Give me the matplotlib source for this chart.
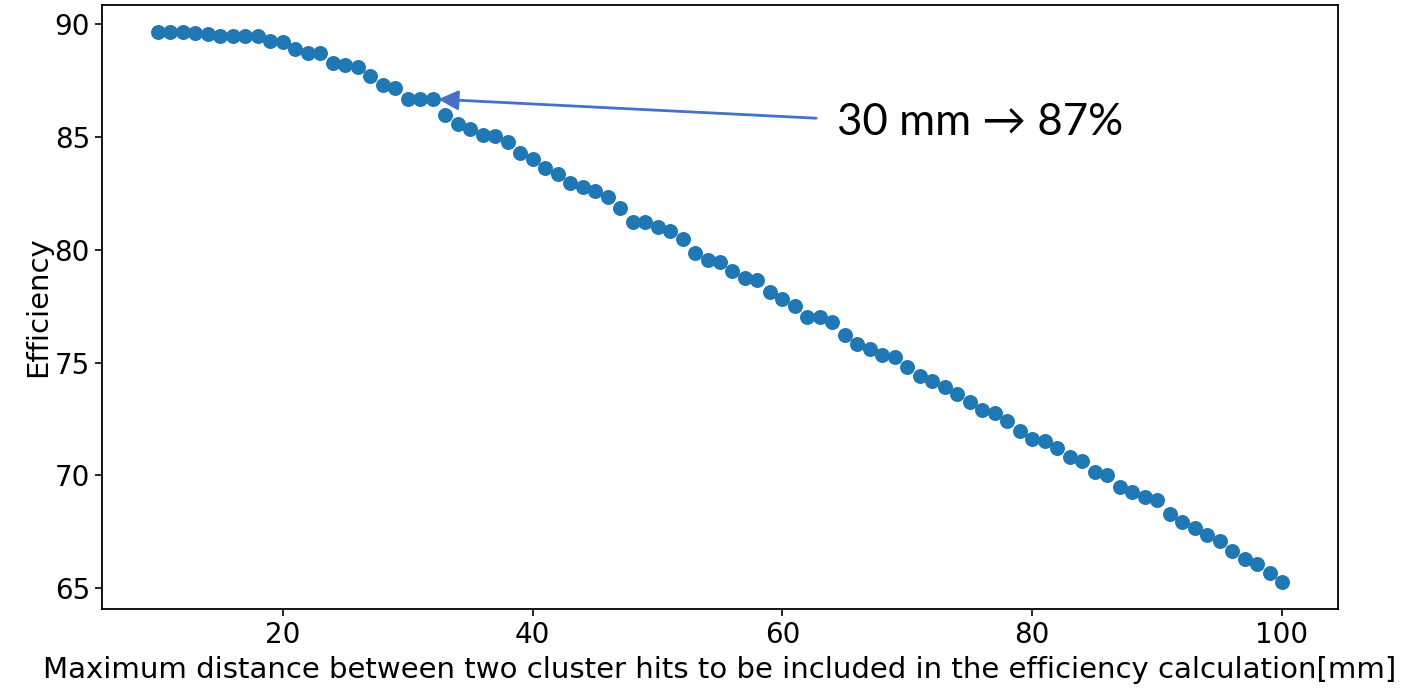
import numpy as np
import matplotlib
matplotlib.use('Agg')
import matplotlib.pyplot as plt

# max distance between cluster hits [mm]
distance = list(range(10, 101))

# efficiency [%]
efficiency = [
    89.63, 89.63, 89.63, 89.59, 89.56, 89.48, 89.48, 89.48, 89.48, 89.26,
    89.19, 88.89, 88.70, 88.70, 88.27, 88.18, 88.08, 87.68, 87.29, 87.16,
    86.67, 86.67, 86.67, 85.96, 85.56, 85.34, 85.09, 85.03, 84.78, 84.30,
    84.01, 83.61, 83.34, 82.97, 82.80, 82.60, 82.35, 81.83, 81.23, 81.23,
    81.00, 80.83, 80.49, 79.87, 79.54, 79.48, 79.08, 78.73, 78.67, 78.12,
    77.82, 77.50, 77.03, 77.03, 76.79, 76.24, 75.83, 75.61, 75.35, 75.25,
    74.81, 74.42, 74.20, 73.90, 73.61, 73.27, 72.88, 72.76, 72.42, 71.99,
    71.62, 71.53, 71.21, 70.84, 70.66, 70.17, 70.00, 69.51, 69.26, 69.04,
    68.92, 68.30, 67.93, 67.66, 67.36, 67.11, 66.65, 66.30, 66.08, 65.66,
    65.29,
]

note = '30 mm \u2192 87%'

fig = plt.figure(figsize=(14.09, 6.9), dpi=100)
ax = fig.add_axes([0.0722, 0.117, 0.8776, 0.8758])

# the scatter itself
ax.scatter(distance, efficiency, s=95, color='#1f77b4', zorder=3)

# labels
ax.set_xlabel('Maximum distance between two cluster hits to be included in the efficiency calculation[mm]',
              fontsize=21, labelpad=5)
ax.set_ylabel('Efficiency', fontsize=21, labelpad=2)
ax.tick_params(labelsize=20, length=5, width=1.2)
ax.set_yticks([65, 70, 75, 80, 85, 90])
ax.set_xticks([20, 40, 60, 80, 100])
for sp in ax.spines.values():
    sp.set_linewidth(1.3)

# the slide annotation pointing at 30 mm
ax.annotate('', xy=(32.45, 86.67), xytext=(62.7, 85.83),
            arrowprops=dict(arrowstyle='-|>', color='#4472C4', lw=2,
                            mutation_scale=30, shrinkA=0, shrinkB=0))
ax.text(64.4, 85.65, note, fontsize=31.5, va='center', ha='left',
        family=['Lato', 'DejaVu Sans'], color='black')

fig.savefig('out.png', dpi=100)
